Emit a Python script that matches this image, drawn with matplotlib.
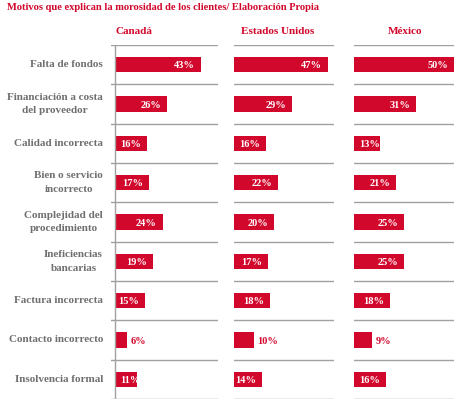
import matplotlib
matplotlib.use("Agg")
import matplotlib.pyplot as plt

motivos = [
    "Falta de fondos",
    "Financiación a costa\ndel proveedor",
    "Calidad incorrecta",
    "Bien o servicio\nincorrecto",
    "Complejidad del\nprocedimiento",
    "Ineficiencias\nbancarias",
    "Factura incorrecta",
    "Contacto incorrecto",
    "Insolvencia formal",
]
paises = ["Canadá", "Estados Unidos", "México"]
canada = [43, 26, 16, 17, 24, 19, 15, 6, 11]
estados_unidos = [47, 29, 16, 22, 20, 17, 18, 10, 14]
mexico = [50, 31, 13, 21, 25, 25, 18, 9, 16]
titulo = "Motivos que explican la morosidad de los clientes/ Elaboración Propia"

ROJO = "#d2072c"
GRIS_TXT = "#6e6f70"
GRIS_LIN = "#a0a0a0"
FUENTE = "Liberation Serif"

W, H = 468, 404
fig = plt.figure(figsize=(W / 100, H / 100), dpi=100)


def px_axes(left, top, width, height):
    return fig.add_axes([left / W, 1 - (top + height) / H, width / W, height / H])


# panel geometry in pixels: (left, width, xmin, xmax)
paneles = [(111, 107, -2, 51.5), (234, 100, 0, 50), (354, 100, 0, 50)]
centros_titulo = [134, 278, 405]
top, bottom = 45, 399
n = len(motivos)

for i, (valores, (left, width, xmin, xmax)) in enumerate(
        zip([canada, estados_unidos, mexico], paneles)):
    ax = px_axes(left, top, width, bottom - top)
    ax.set_xlim(xmin, xmax)
    ax.set_ylim(n, 0)
    ax.axis("off")
    for k in range(n + 1):
        ax.axhline(k, color=GRIS_LIN, lw=1.0)
    if i == 0:
        ax.axvline(0, color=GRIS_LIN, lw=1.0)
    ys = [k + 0.5 for k in range(n)]
    ax.barh(ys, valores, height=0.39, left=0, color=ROJO)
    for y, v in zip(ys, valores):
        if v >= 14:
            ax.text(v - 3, y + 0.03, f"{v}%", color="white", fontsize=7.5,
                    fontweight="bold", family=FUENTE, ha="right", va="center")
        elif v >= 11:
            ax.text(2.5, y + 0.03, f"{v}%", color="white", fontsize=7.5,
                    fontweight="bold", family=FUENTE, ha="left", va="center")
        else:
            ax.text(v + 1.8, y + 0.03, f"{v}%", color=ROJO, fontsize=7.5,
                    fontweight="bold", family=FUENTE, ha="left", va="center")
    fig.text(centros_titulo[i] / W, 1 - 31 / H, paises[i], color=ROJO,
             fontsize=8, fontweight="bold", family=FUENTE,
             ha="center", va="center")

# row labels
row_h = (bottom - top) / n
for k, m in enumerate(motivos):
    yc = top + (k + 0.5) * row_h
    fig.text(103 / W, 1 - yc / H, m, color=GRIS_TXT, fontsize=8,
             fontweight="bold", family=FUENTE, ha="right", va="center",
             multialignment="center", linespacing=1.7)

fig.text(7 / W, 1 - 8 / H, titulo, color=ROJO, fontsize=7.6,
         fontweight="bold", family=FUENTE, ha="left", va="center")

fig.savefig("out.png", dpi=100, facecolor="white")
